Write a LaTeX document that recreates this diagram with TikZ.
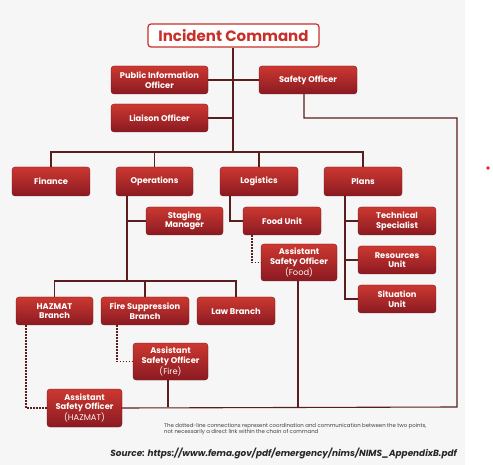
\documentclass[tikz,border=0pt]{standalone}
\usepackage{fontspec}
\setmainfont{Poppins}
\usetikzlibrary{calc}
\definecolor{bg}{HTML}{F6F6F6}
\definecolor{boxtop}{HTML}{CC3830}
\definecolor{boxbot}{HTML}{8A1A22}
\definecolor{linec}{HTML}{5A1E1E}
\definecolor{icred}{HTML}{C8302A}
\definecolor{dotred}{HTML}{E8202A}
\tikzset{
  unit/.style={rounded corners=3pt, shading=axis, top color=boxtop, bottom color=boxbot,
    draw=boxbot!80!black, line width=0.3pt, text=white, font=\fontsize{8.3}{9.6}\selectfont\bfseries,
    align=center, inner sep=0pt},
  conn/.style={draw=linec, line width=1.1pt},
  dotc/.style={draw=linec, line width=1.4pt, dash pattern=on 1.5pt off 1.5pt},
}
\begin{document}
\begin{tikzpicture}[x=1pt,y=-1pt]
\useasboundingbox (0,0) rectangle (493,465);
\fill[bg] (0,0) rectangle (465,465);
\fill[dotred] (488,168) circle (1.8);
% nodes
\node[rounded corners=3pt, draw=icred, fill=white, line width=1.2pt, text=icred,
  font=\fontsize{15}{17}\selectfont\bfseries, minimum width=171, minimum height=23, inner sep=0pt]
  (ic) at (233.5,35.5) {Incident Command};
\node[unit, minimum width=97, minimum height=28] (pio) at (159.5,80) {Public Information\\Officer};
\node[unit, minimum width=98, minimum height=28] (so) at (308,80) {Safety Officer};
\node[unit, minimum width=97, minimum height=28] (lo) at (159.5,118) {Liaison Officer};
\node[unit, minimum width=78, minimum height=29] (fin) at (51,181.5) {Finance};
\node[unit, minimum width=77, minimum height=29] (ops) at (154.5,181.5) {Operations};
\node[unit, minimum width=78, minimum height=29] (log) at (259,181.5) {Logistics};
\node[unit, minimum width=78, minimum height=29] (plans) at (363,181.5) {Plans};
\node[unit, minimum width=77, minimum height=28] (stg) at (184.5,221) {Staging\\Manager};
\node[unit, minimum width=78, minimum height=28] (food) at (282,221) {Food Unit};
\node[unit, minimum width=76, minimum height=37] (asof) at (299,262.5) {Assistant\\Safety Officer\\{\mdseries\color{white!85!pink}(Food)}};
\node[unit, minimum width=78, minimum height=28] (tech) at (397,221) {Technical\\Specialist};
\node[unit, minimum width=78, minimum height=28] (res) at (397,260) {Resources\\Unit};
\node[unit, minimum width=78, minimum height=28] (sit) at (397,299) {Situation\\Unit};
\node[unit, minimum width=77, minimum height=28] (haz) at (54.5,311) {HAZMAT\\Branch};
\node[unit, minimum width=88, minimum height=28] (fire) at (145,311) {Fire Suppression\\Branch};
\node[unit, minimum width=78, minimum height=28] (law) at (236,311) {Law Branch};
\node[unit, minimum width=75, minimum height=37] (asofire) at (170.5,361.5) {Assistant\\Safety Officer\\{\mdseries\color{white!85!pink}(Fire)}};
\node[unit, minimum width=75, minimum height=38] (asoh) at (84.5,408) {Assistant\\Safety Officer\\{\mdseries\color{white!85!pink}(HAZMAT)}};
% coordinates
\coordinate (bus) at (0,152);
\coordinate (bbus) at (0,281);
\coordinate (bot) at (0,407);
\coordinate (icb) at (233,152);
\coordinate (soturn) at (304,118);
\coordinate (rc) at (457,118);
\coordinate (rb) at (457,407);
\coordinate (opsx) at (127,0);
\coordinate (plx) at (345,0);
\coordinate (lgx) at (230,0);
\coordinate (fdx) at (252,0);
\coordinate (frx) at (117,0);
\coordinate (hzx) at (26,0);
\coordinate (asfx) at (298,0);
\coordinate (afx) at (168,0);
% connectors
\path[conn] (ic.south -| icb) -- (icb);
\path[conn] (pio.east) -- (so.west);
\path[conn] (lo.east) -- (lo.east -| icb);
\path[conn] (fin.north) -- (fin.north |- bus) -- (plans.north |- bus) -- (plans.north);
\path[conn] (ops.north) -- (ops.north |- bus);
\path[conn] (log.north) -- (log.north |- bus);
\path[conn] (so.south -| soturn) -- (soturn) -- (rc) -- (rb) -- (asoh.east);
\path[conn] (ops.south -| opsx) -- (opsx |- bbus);
\path[conn] (opsx |- stg.west) -- (stg.west);
\path[conn] (haz.north) -- (haz.north |- bbus) -- (law.north |- bbus) -- (law.north);
\path[conn] (fire.north) -- (fire.north |- bbus);
\path[conn] (log.south -| lgx) |- (food.west);
\path[conn] (plans.south -| plx) -- (plx |- sit.west) -- (sit.west);
\path[conn] (plx |- tech.west) -- (tech.west);
\path[conn] (plx |- res.west) -- (res.west);
\path[conn] (asof.south -| asfx) -- (asfx |- bot);
\path[conn] (asofire.south -| afx) -- (afx |- bot);
\path[dotc] (food.south -| fdx) |- (asof.west);
\path[dotc] (fire.south -| frx) |- (asofire.west);
\path[dotc] (haz.south -| hzx) |- (asoh.west);
% texts
\node[anchor=north west, inner sep=0pt, align=left, text=black!75, font=\fontsize{5.4}{6.5}\selectfont] (note) at (164,423)
  {The dotted-line connections represent coordination and communication between the two points,\\not necessarily a direct link within the chain of command};
\node[anchor=east, inner sep=0pt, text=black!85, font=\fontsize{8.9}{10}\selectfont\bfseries\itshape] (src) at (457,453)
  {Source: https://www.fema.gov/pdf/emergency/nims/NIMS\_AppendixB.pdf};
\end{tikzpicture}
\end{document}
